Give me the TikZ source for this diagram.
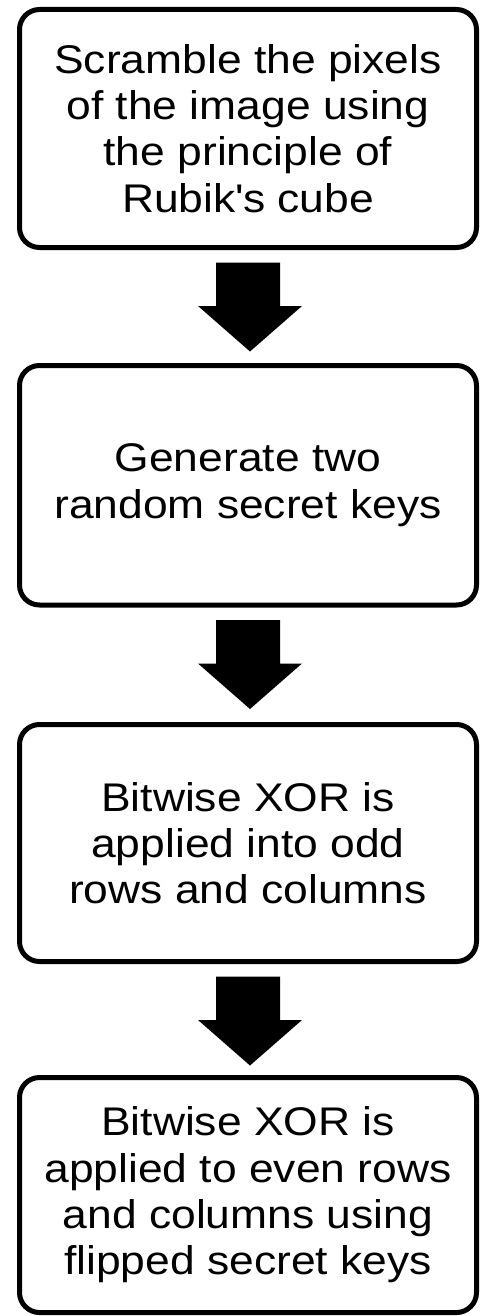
\documentclass[tikz,border=0pt]{standalone}
\usepackage{fontspec}
\setmainfont{Liberation Sans}[FakeStretch=1.11]
\usetikzlibrary{calc}

\tikzset{
  stepbox/.style={
    draw=black, line width=5pt, rounded corners=20pt, fill=white,
    minimum width=457pt, outer sep=0pt, inner sep=0pt,
    align=center, font=\fontsize{40}{46.3}\selectfont
  },
  flowarrow/.style={fill=black}
}

% block arrow hanging below one box and pointing at the next
\newcommand{\flowdown}[1]{%
  \fill[flowarrow]
    ($(#1.south)+(-32,15)$) -- ($(#1.south)+(32,15)$) --
    ($(#1.south)+(32,58.5)$) -- ($(#1.south)+(54,58.5)$) --
    ($(#1.south)+(2,104)$) --
    ($(#1.south)+(-50,58.5)$) -- ($(#1.south)+(-32,58.5)$) -- cycle;
}

\begin{document}
\begin{tikzpicture}[x=1pt,y=-1pt]
  \useasboundingbox (0,0) rectangle (481,1316);

  \node[stepbox, minimum height=238pt] (b1) at (248,128.5)
    {Scramble the pixels\\of the image using\\the principle of\\Rubik\textquotesingle s cube};
  \node[stepbox, minimum height=239.5pt] (b2) at (248,485.25)
    {Generate two\\random secret keys};
  \node[stepbox, minimum height=237pt] (b3) at (248,843)
    {Bitwise XOR is\\applied into odd\\rows and columns};
  \node[stepbox, minimum height=235pt] (b4) at (248,1195)
    {Bitwise XOR is\\applied to even rows\\and columns using\\flipped secret keys};

  \flowdown{b1}
  \flowdown{b2}
  \flowdown{b3}
\end{tikzpicture}
\end{document}
